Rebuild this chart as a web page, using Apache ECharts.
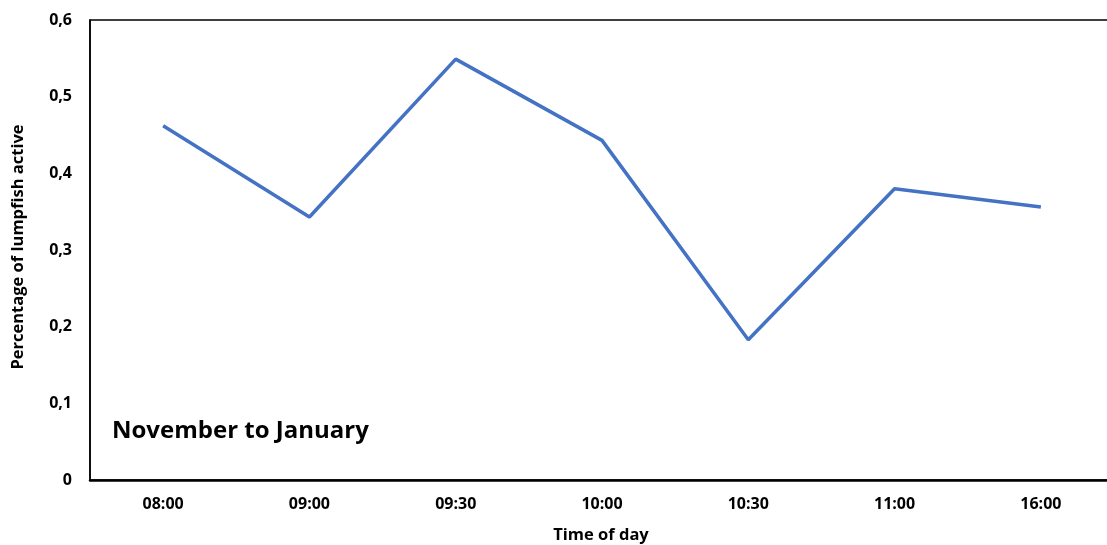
<!DOCTYPE html>
<html><head><meta charset="utf-8">
<script src="https://cdn.jsdelivr.net/npm/echarts@6/dist/echarts.min.js"></script>
<style>html,body{margin:0;padding:0;background:#fff}#c{width:1107px;height:545px}</style>
</head><body><div id="c"></div>
<script>
const categories = ["08:00","09:00","09:30","10:00","10:30","11:00","16:00"];
const activeValues = [0.462,0.343,0.549,0.443,0.183,0.380,0.356];
const yTicks = [0,0.1,0.2,0.3,0.4,0.5,0.6];
const xTitle = 'Time of day';
const yTitle = 'Percentage of lumpfish active';
const FONT = "'Open Sans', 'Liberation Sans', sans-serif";
const chart = echarts.init(document.getElementById('c'));
chart.setOption({
  animation:false,
  backgroundColor:'#fff',
  grid:{left:90, top:20, height:460, width:1024, show:true, borderColor:'#000', borderWidth:1.5, outerBoundsMode:'none', containLabel:false},
  graphic:[
    {type:'text', left:112, top:419, style:{text:'November to January', font:"bold 24px "+FONT, fill:'#000'}},
    {type:'text', x:601, y:535, style:{text:xTitle, font:"bold 16.5px "+FONT, fill:'#000', align:'center', verticalAlign:'middle'}},
    {type:'text', x:18, y:247, rotation:Math.PI/2, style:{text:yTitle, font:"bold 16.5px "+FONT, fill:'#000', align:'center', verticalAlign:'middle'}}
  ],
  xAxis:{type:'category', data:categories, boundaryGap:true,
    axisLine:{lineStyle:{color:'#000', width:2.5}}, axisTick:{show:false},
    axisLabel:{fontFamily:FONT, fontWeight:'bold', fontSize:16, color:'#000', margin:16}},
  yAxis:{type:'value', min:0, max:0.6, interval:0.1,
    axisLine:{show:true, lineStyle:{color:'#000', width:1.5}}, axisTick:{show:false},
    splitLine:{show:false},
    axisLabel:{fontFamily:FONT, fontWeight:'bold', fontSize:16, color:'#000', margin:18,
      formatter:v=>{const t=yTicks.find(x=>Math.abs(x-v)<1e-9); return (t===0?'0':String(Number(v.toFixed(1))).replace('.',','));}}},
  series:[{type:'line', data:activeValues, symbol:'none', lineStyle:{color:'#4472C4', width:3.5}}]
});
</script></body></html>
